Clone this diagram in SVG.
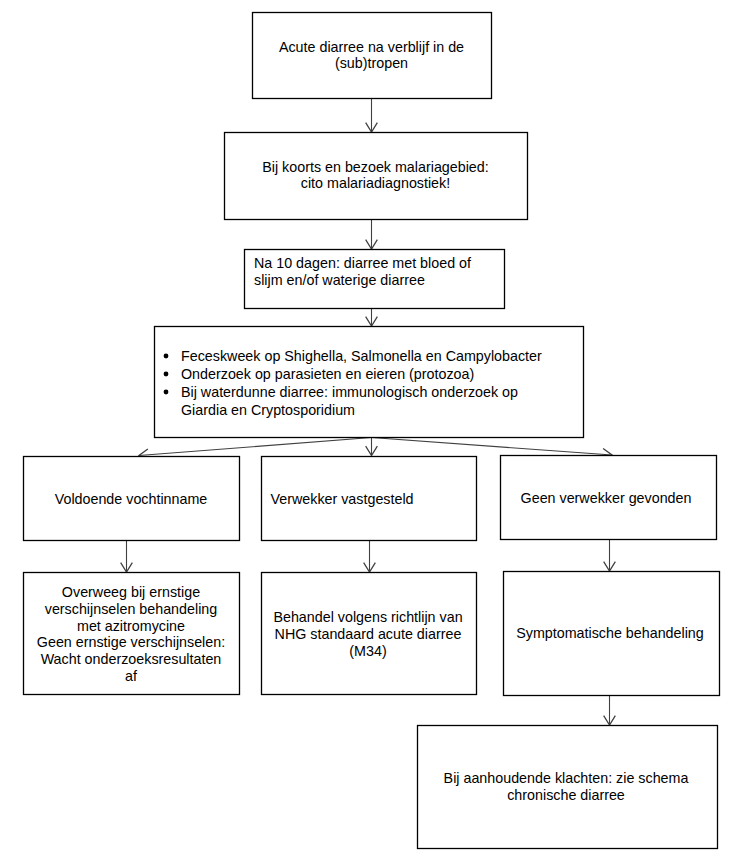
<svg xmlns="http://www.w3.org/2000/svg" width="738" height="865" viewBox="0 0 738 865">
<style>
.box{fill:#fff;stroke:#000;stroke-width:1.3}
text{font-family:"Liberation Sans",Arial,sans-serif;font-size:14.3px;fill:#000}
.c{text-anchor:middle}
.con{stroke:#404040;stroke-width:1.1;fill:none}
</style>
<defs>
<marker id="arr" markerUnits="userSpaceOnUse" markerWidth="14" markerHeight="14" viewBox="-9 -6 10 12" refX="0" refY="0" orient="auto">
<path d="M-8,-5 L0,0 L-8,5" fill="none" stroke="#404040" stroke-width="1.1"/>
</marker>
</defs>
<rect width="738" height="865" fill="#fff"/>
<g id="connectors">
<line class="con" x1="371.5" y1="98.5" x2="371.5" y2="132" marker-end="url(#arr)"/>
<line class="con" x1="371.5" y1="219.5" x2="371.5" y2="249" marker-end="url(#arr)"/>
<line class="con" x1="371.5" y1="308.5" x2="371.5" y2="326" marker-end="url(#arr)"/>
<line class="con" x1="371.5" y1="437.5" x2="139" y2="455.5" marker-end="url(#arr)"/>
<line class="con" x1="371.5" y1="437.5" x2="371.5" y2="455.5" marker-end="url(#arr)"/>
<line class="con" x1="371.5" y1="437.5" x2="612" y2="455" marker-end="url(#arr)"/>
<line class="con" x1="126.5" y1="540.5" x2="126.5" y2="572" marker-end="url(#arr)"/>
<line class="con" x1="369.5" y1="540.5" x2="369.5" y2="572" marker-end="url(#arr)"/>
<line class="con" x1="609.5" y1="539.5" x2="609.5" y2="571" marker-end="url(#arr)"/>
<line class="con" x1="609.5" y1="695.5" x2="609.5" y2="725" marker-end="url(#arr)"/>
</g>
<g id="n1">
<rect class="box" x="252.5" y="12.5" width="239" height="86"/>
<text class="c" x="371.5" y="51.7">Acute diarree na verblijf in de</text>
<text class="c" x="371.5" y="68.3">(sub)tropen</text>
</g>
<g id="n2">
<rect class="box" x="224.5" y="132.5" width="303" height="87"/>
<text class="c" x="375.5" y="171.7">Bij koorts en bezoek malariagebied:</text>
<text class="c" x="375.5" y="188.3">cito malariadiagnostiek!</text>
</g>
<g id="n3">
<rect class="box" x="244.5" y="249.5" width="260" height="59"/>
<text x="254" y="268.3">Na 10 dagen: diarree met bloed of</text>
<text x="254" y="285">slijm en/of waterige diarree</text>
</g>
<g id="n4">
<rect class="box" x="154.5" y="326.5" width="429" height="111"/>
<circle cx="166" cy="356" r="2.4"/>
<circle cx="166" cy="374" r="2.4"/>
<circle cx="166" cy="392" r="2.4"/>
<text x="181" y="360.5">Feceskweek op Shighella, Salmonella en Campylobacter</text>
<text x="181" y="378.5">Onderzoek op parasieten en eieren (protozoa)</text>
<text x="181" y="396.5">Bij waterdunne diarree: immunologisch onderzoek op</text>
<text x="181" y="414.5">Giardia en Cryptosporidium</text>
</g>
<g id="n5">
<rect class="box" x="23.5" y="456.5" width="216" height="84"/>
<text class="c" x="131" y="504">Voldoende vochtinname</text>
</g>
<g id="n6">
<rect class="box" x="261.5" y="456.5" width="215" height="84"/>
<text x="270.5" y="504">Verwekker vastgesteld</text>
</g>
<g id="n7">
<rect class="box" x="500.5" y="455.5" width="216" height="84"/>
<text class="c" x="606" y="503">Geen verwekker gevonden</text>
</g>
<g id="n8">
<rect class="box" x="23.5" y="572.5" width="216" height="122"/>
<text class="c" x="131" y="597.3">Overweeg bij ernstige</text>
<text class="c" x="131" y="614">verschijnselen behandeling</text>
<text class="c" x="131" y="630.7">met azitromycine</text>
<text class="c" x="131" y="647.3">Geen ernstige verschijnselen:</text>
<text class="c" x="131" y="664">Wacht onderzoeksresultaten</text>
<text class="c" x="131" y="680.7">af</text>
</g>
<g id="n9">
<rect class="box" x="261.5" y="572.5" width="215" height="122"/>
<text class="c" x="368" y="622.3">Behandel volgens richtlijn van</text>
<text class="c" x="368" y="639">NHG standaard acute diarree</text>
<text class="c" x="368" y="655.7">(M34)</text>
</g>
<g id="n10">
<rect class="box" x="503.5" y="571.5" width="216" height="124"/>
<text class="c" x="610" y="638.3">Symptomatische behandeling</text>
</g>
<g id="n11">
<rect class="box" x="417.5" y="725.5" width="300" height="123"/>
<text class="c" x="566" y="783.3">Bij aanhoudende klachten: zie schema</text>
<text class="c" x="566" y="800">chronische diarree</text>
</g>
</svg>
